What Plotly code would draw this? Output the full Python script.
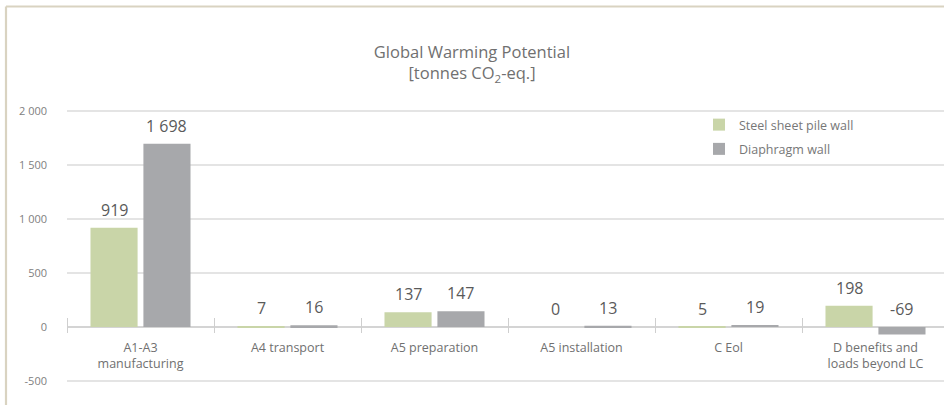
import plotly.graph_objects as go

# ---------------- data ----------------
categories = ["A1-A3<br>manufacturing", "A4 transport", "A5 preparation",
              "A5 installation", "C Eol", "D benefits and<br>loads beyond LC"]
steel_values = [919, 7, 137, 0, 5, 198]
diaphragm_values = [1698, 16, 147, 13, 19, -69]
series_names = ["Steel sheet pile wall", "Diaphragm wall"]
ytick_vals = [-500, 0, 500, 1000, 1500, 2000]
ytick_text = ["-500", "0", "500", "1 000", "1 500", "2 000"]

# ---------------- styling ----------------
W, H = 944, 405
ML, MR, MT, MB = 67, 0, 110, 11
FONT = "Open Sans"
GREEN = "#c9d5a8"
GREY = "#a7a8ab"
y_min, y_max = -620, 2010
cat_px = 147.0
plot_w = W - ML - MR
plot_h = H - MT - MB
bargap = 0.28

fig = go.Figure()
for name, vals, col in [(series_names[0], steel_values, GREEN),
                        (series_names[1], diaphragm_values, GREY)]:
    fig.add_trace(go.Bar(name=name, x=categories, y=vals, marker_color=col,
                         marker_line_width=0, legendgroup=name, hoverinfo="y"))

# value labels above bars (negative values shown above the zero line)
offset = (1 - bargap) / 4
annotations = []
for k, vals in enumerate([steel_values, diaphragm_values]):
    sign = -1 if k == 0 else 1
    for i, v in enumerate(vals):
        annotations.append(dict(
            x=i + sign * offset, y=max(v, 0), xref="x", yref="y",
            text=f"{v:,}".replace(",", " "), showarrow=False,
            yanchor="bottom", yshift=5,
            font=dict(family=FONT, size=16, color="#5a5a5a")))

# decorative frame (top & left)
fx = (6 - ML) / plot_w
fy = (MT + plot_h - 6.5) / plot_h
shapes = [
    dict(type="line", xref="paper", yref="paper", x0=fx, x1=2, y0=fy, y1=fy,
         line=dict(color="#d9d3c1", width=2.2)),
    dict(type="line", xref="paper", yref="paper", x0=fx, x1=fx, y0=fy, y1=-1,
         line=dict(color="#d9d3c1", width=2.2)),
]

zero_frac = (0 - y_min) / (y_max - y_min)

fig.update_layout(
    width=W, height=H,
    margin=dict(l=ML, r=MR, t=MT, b=MB, pad=0, autoexpand=False),
    paper_bgcolor="white", plot_bgcolor="white",
    barmode="group", bargap=bargap, bargroupgap=0.11,
    font=dict(family=FONT, color="#777777"),
    title=dict(text="Global Warming Potential<br>[tonnes CO<sub>2</sub>-eq.]",
               x=0.5, xref="container", xanchor="center",
               y=1 - 58 / H, yref="container", yanchor="top",
               font=dict(family=FONT, size=16.5, color="#707070")),
    legend=dict(x=(699 - ML) / plot_w, y=(MT + plot_h - 110) / plot_h,
                xanchor="left", yanchor="top", bgcolor="rgba(0,0,0,0)",
                font=dict(family=FONT, size=12.5, color="#777777"),
                tracegroupgap=5, itemclick=False),
    xaxis=dict(range=[-0.5, -0.5 + plot_w / cat_px], showgrid=False,
               showline=False, zeroline=False, automargin=False,
               anchor="free", position=zero_frac + 10 / plot_h,
               ticks="outside", ticklen=15, tickwidth=1, tickcolor="#cfcfcf",
               tickson="boundaries", ticklabelstandoff=21,
               tickfont=dict(family=FONT, size=12.5, color="#707070")),
    yaxis=dict(range=[y_min, y_max], tickvals=ytick_vals, ticktext=ytick_text,
               showgrid=True, gridcolor="#e4e4e4", gridwidth=1.6,
               zeroline=True, zerolinecolor="#d4d4d4", zerolinewidth=2,
               showline=False, ticks="", ticklabelstandoff=19, automargin=False,
               tickfont=dict(family=FONT, size=11, color="#808080")),
    annotations=annotations,
    shapes=shapes,
    showlegend=True,
)

fig.write_html("out.html",
               config={"displayModeBar": False},
               post_script="document.body.style.margin='0';"
                           "document.body.style.overflow='hidden';")
